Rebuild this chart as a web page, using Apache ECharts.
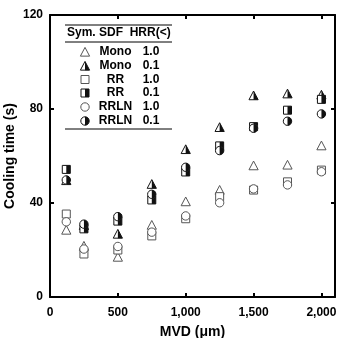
<!DOCTYPE html>
<html>
<head>
<meta charset="utf-8">
<script src="https://cdn.jsdelivr.net/npm/echarts@6/dist/echarts.min.js"></script>
<style>
  html, body { margin: 0; padding: 0; background: #fff; }
  #chart { width: 342px; height: 338px; }
</style>
</head>
<body>
<div id="chart"></div>
<script>
  // MVD (um) for each column of points
  const mvd = [120, 250, 500, 750, 1000, 1250, 1500, 1750, 2000];

  // cooling time (s) per SDF / HRR case
  const mono10 = [28.5, 21.7, 17.0, 30.6, 40.6, 45.5, 55.9, 56.2, 64.4];
  const mono01 = [49.6, 30.5, 26.8, 48.0, 62.8, 72.2, 85.7, 86.5, 86.0];
  const rr10 = [35.3, 18.3, 20.0, 26.0, 33.3, 42.7, 45.5, 49.0, 54.0];
  const rr01 = [54.3, 29.0, 32.3, 41.3, 53.2, 64.3, 72.5, 79.5, 84.1];
  const rrln10 = [32.0, 20.4, 21.5, 27.6, 34.5, 40.1, 46.0, 47.7, 53.3];
  const rrln01 = [49.8, 31.0, 34.2, 43.7, 55.2, 62.3, 71.8, 74.8, 77.9];

  const xTicks = [0, 500, 1000, 1500, 2000];
  const yTicks = [0, 40, 80, 120];

  const cases = [
    { sdf: 'Mono', hrr: '1.0', shape: 'triangle', half: false, data: mono10 },
    { sdf: 'Mono', hrr: '0.1', shape: 'triangle', half: true, data: mono01 },
    { sdf: 'RR', hrr: '1.0', shape: 'rect', half: false, data: rr10 },
    { sdf: 'RR', hrr: '0.1', shape: 'rect', half: true, data: rr01 },
    { sdf: 'RRLN', hrr: '1.0', shape: 'circle', half: false, data: rrln10 },
    { sdf: 'RRLN', hrr: '0.1', shape: 'circle', half: true, data: rrln01 },
  ];

  const FONT = '"Liberation Sans", Arial, sans-serif';

  // marker pieces: open outline, right half filled black when half = true
  function marker(shape, half, x, y) {
    const stroke = half ? '#111' : '#555';
    const base = { fill: '#fff', stroke: stroke, lineWidth: 1 };
    const els = [];
    if (shape === 'triangle') {
      const s = 4.6;
      els.push({ type: 'polygon', shape: { points: [[x, y - s], [x + s, y + s * 0.9], [x - s, y + s * 0.9]] }, style: base });
      if (half) {
        els.push({ type: 'polygon', shape: { points: [[x, y - s], [x + s, y + s * 0.9], [x, y + s * 0.9]] }, style: { fill: '#111' } });
      }
    } else if (shape === 'rect') {
      const s = 4;
      els.push({ type: 'rect', shape: { x: x - s, y: y - s, width: 2 * s, height: 2 * s }, style: base });
      if (half) {
        els.push({ type: 'rect', shape: { x: x, y: y - s, width: s, height: 2 * s }, style: { fill: '#111' } });
      }
    } else {
      const r = 4.2;
      els.push({ type: 'circle', shape: { cx: x, cy: y, r: r }, style: base });
      if (half) {
        els.push({ type: 'sector', shape: { cx: x, cy: y, r0: 0, r: r, startAngle: -Math.PI / 2, endAngle: Math.PI / 2 }, style: { fill: '#111' } });
      }
    }
    return els;
  }

  function makeRender(c) {
    return function (params, api) {
      const p = api.coord([api.value(0), api.value(1)]);
      return { type: 'group', children: marker(c.shape, c.half, p[0], p[1]) };
    };
  }

  // legend table drawn as graphics
  const legendX0 = 65, legendX1 = 172;
  const rowY = [52, 66, 79.5, 93, 107, 121];
  const legendEls = [
    { type: 'line', shape: { x1: legendX0, y1: 25, x2: legendX1, y2: 25 }, style: { stroke: '#000', lineWidth: 1 } },
    { type: 'line', shape: { x1: legendX0, y1: 42, x2: legendX1, y2: 42 }, style: { stroke: '#000', lineWidth: 1 } },
    { type: 'line', shape: { x1: legendX0, y1: 129, x2: legendX1, y2: 129 }, style: { stroke: '#000', lineWidth: 1 } },
    { type: 'text', x: 67, y: 33, style: { text: 'Sym. SDF  HRR(<)', font: 'bold 12px ' + FONT, fill: '#000', verticalAlign: 'middle' } },
  ];
  cases.forEach((c, i) => {
    const y = rowY[i];
    marker(c.shape, c.half, 85, y).forEach(e => legendEls.push(e));
    legendEls.push({ type: 'text', x: 115.5, y: y, style: { text: c.sdf, font: 'bold 12px ' + FONT, fill: '#000', align: 'center', verticalAlign: 'middle' } });
    legendEls.push({ type: 'text', x: 151, y: y, style: { text: c.hrr, font: 'bold 12px ' + FONT, fill: '#000', align: 'center', verticalAlign: 'middle' } });
  });

  const labelStyle = { color: '#000', fontFamily: FONT, fontWeight: 'bold', fontSize: 12 };
  const axisLine = { show: true, onZero: false, lineStyle: { color: '#000', width: 2 } };
  const inTick = { show: true, inside: true, length: 4, lineStyle: { color: '#000', width: 2 } };

  const chart = echarts.init(document.getElementById('chart'), null, { renderer: 'canvas' });
  chart.setOption({
    animation: false,
    grid: { left: 50, right: 7, top: 15, bottom: 41, show: false, containLabel: false, outerBoundsMode: 'none' },
    xAxis: [
      {
        type: 'value', min: 0, max: 2100, interval: 500,
        name: 'MVD (\u03bcm)', nameLocation: 'middle', nameGap: 28,
        nameTextStyle: { color: '#000', fontFamily: FONT, fontWeight: 'bold', fontSize: 14 },
        axisLine: axisLine, axisTick: inTick, splitLine: { show: false },
        axisLabel: Object.assign({
          margin: 10, showMaxLabel: false,
          formatter: v => xTicks.indexOf(v) >= 0 ? v.toLocaleString('en-US') : '',
        }, labelStyle),
      },
      {
        type: 'value', position: 'top', min: 0, max: 2100, interval: 500,
        axisLine: axisLine, axisTick: inTick, axisLabel: { show: false }, splitLine: { show: false },
      },
    ],
    yAxis: [
      {
        type: 'value', min: 0, max: 120, interval: 40,
        name: 'Cooling time (s)', nameLocation: 'middle', nameGap: 33, nameMoveOverlap: false,
        nameTextStyle: { color: '#000', fontFamily: FONT, fontWeight: 'bold', fontSize: 14 },
        axisLine: axisLine, axisTick: inTick, splitLine: { show: false },
        axisLabel: Object.assign({ margin: 7, formatter: v => yTicks.indexOf(v) >= 0 ? String(v) : '' }, labelStyle),
      },
      {
        type: 'value', position: 'right', min: 0, max: 120, interval: 40,
        axisLine: axisLine, axisTick: inTick, axisLabel: { show: false }, splitLine: { show: false },
      },
    ],
    graphic: legendEls,
    series: cases.map(c => ({
      type: 'custom',
      name: c.sdf + ' ' + c.hrr,
      renderItem: makeRender(c),
      data: mvd.map((m, i) => [m, c.data[i]]),
      z: c.half ? 3 : 2,
    })),
  });
</script>
</body>
</html>
